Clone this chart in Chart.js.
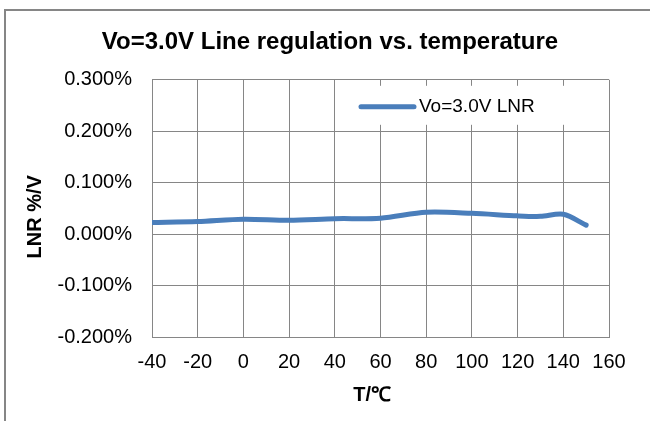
<!DOCTYPE html>
<html>
<head>
<meta charset="utf-8">
<script src="https://cdn.jsdelivr.net/npm/chart.js@4"></script>
<style>
  html, body { margin: 0; padding: 0; background: #fff; overflow: hidden; }
</style>
</head>
<body>
<canvas id="lnrChart" width="650" height="421"></canvas>
<script>
// values (LNR in %/V)
const temps = [-40, -20, 0, 20, 40, 60, 80, 100, 120, 130, 140, 150];
const lnr = [0.0225, 0.0245, 0.029, 0.027, 0.030, 0.031, 0.0425, 0.0405, 0.0355, 0.0345, 0.0385, 0.0175];
const xTicks = [-40, -20, 0, 20, 40, 60, 80, 100, 120, 140, 160];
const yTicks = [-0.2, -0.1, 0, 0.1, 0.2, 0.3];

const gridGray = '#868686';
const lineBlue = '#4a7ebb';
const tickFont = { family: 'Liberation Sans', size: 20 };
const boldFont = { family: 'Liberation Sans', size: 20, weight: 'bold' };

// outer chart frame (only left and top edges are inside the picture)
const frame = {
  id: 'frame',
  beforeDraw(chart) {
    const ctx = chart.ctx;
    ctx.save();
    ctx.fillStyle = '#fff';
    ctx.fillRect(0, 0, chart.width, chart.height);
    ctx.strokeStyle = gridGray;
    ctx.lineWidth = 2;
    ctx.beginPath();
    ctx.moveTo(5, chart.height);
    ctx.lineTo(5, 10);
    ctx.lineTo(chart.width, 10);
    ctx.stroke();
    ctx.restore();
  }
};

// legend sits inside the plot, top right
const boxLegend = {
  id: 'boxLegend',
  afterDatasetsDraw(chart) {
    const ds = chart.data.datasets[0];
    const area = chart.chartArea;
    const ctx = chart.ctx;
    const x = area.left + 206;
    const y = area.top + 27;
    ctx.save();
    ctx.fillStyle = '#fff';
    ctx.fillRect(x - 8, area.top + 6, 222, 39);
    ctx.strokeStyle = ds.borderColor;
    ctx.lineWidth = 5;
    ctx.lineCap = 'round';
    ctx.beginPath();
    ctx.moveTo(x + 3, y);
    ctx.lineTo(x + 56, y);
    ctx.stroke();
    ctx.fillStyle = '#000';
    ctx.font = '19px "Liberation Sans"';
    ctx.textBaseline = 'middle';
    ctx.fillText(ds.label, x + 61, y);
    ctx.restore();
  }
};

const ctx = document.getElementById('lnrChart').getContext('2d');
const lnrChart = new Chart(ctx, {
  type: 'line',
  data: {
    datasets: [{
      label: 'Vo=3.0V LNR',
      data: temps.map((t, i) => ({ x: t, y: lnr[i] })),
      borderColor: lineBlue,
      borderWidth: 5,
      pointRadius: 0,
      tension: 0.3,
      fill: false,
      borderCapStyle: 'round',
      borderJoinStyle: 'round'
    }]
  },
  options: {
    responsive: false,
    animation: false,
    layout: { padding: { left: 10, right: 0, top: 0, bottom: 0 } },
    plugins: {
      legend: { display: false },
      tooltip: { enabled: false },
      title: {
        display: true,
        text: 'Vo=3.0V Line regulation vs. temperature',
        color: '#000',
        font: { family: 'Liberation Sans', size: 24, weight: 'bold' },
        padding: { top: 28, bottom: 23 }
      }
    },
    scales: {
      x: {
        type: 'linear',
        min: xTicks[0],
        max: xTicks[xTicks.length - 1],
        afterBuildTicks: s => { s.ticks = xTicks.map(v => ({ value: v })); },
        afterFit: s => { s.height = 84; },
        grid: { color: gridGray, drawTicks: false },
        border: { color: gridGray },
        ticks: { color: '#000', font: tickFont, padding: 13, maxRotation: 0 },
        title: {
          display: true,
          text: 'T/℃   ',
          color: '#000',
          font: boldFont,
          padding: { top: 0, bottom: 14 }
        }
      },
      y: {
        min: yTicks[0],
        max: yTicks[yTicks.length - 1],
        afterBuildTicks: s => { s.ticks = yTicks.map(v => ({ value: v })); },
        afterFit: s => { s.width = 142; },
        grid: { color: gridGray, drawTicks: false },
        border: { color: gridGray },
        ticks: {
          color: '#000',
          font: tickFont,
          padding: 20,
          callback: v => v.toFixed(3) + '%'
        },
        title: {
          display: true,
          text: 'LNR %/V   ',
          color: '#000',
          font: boldFont,
          padding: { top: 13, bottom: 0 }
        }
      },
      // empty right-hand axis, only keeps room like the original
      y2: {
        position: 'right',
        grid: { display: false },
        border: { display: false },
        ticks: { display: false },
        afterFit: s => { s.width = 41; }
      }
    }
  },
  plugins: [frame, boxLegend]
});
</script>
</body>
</html>
